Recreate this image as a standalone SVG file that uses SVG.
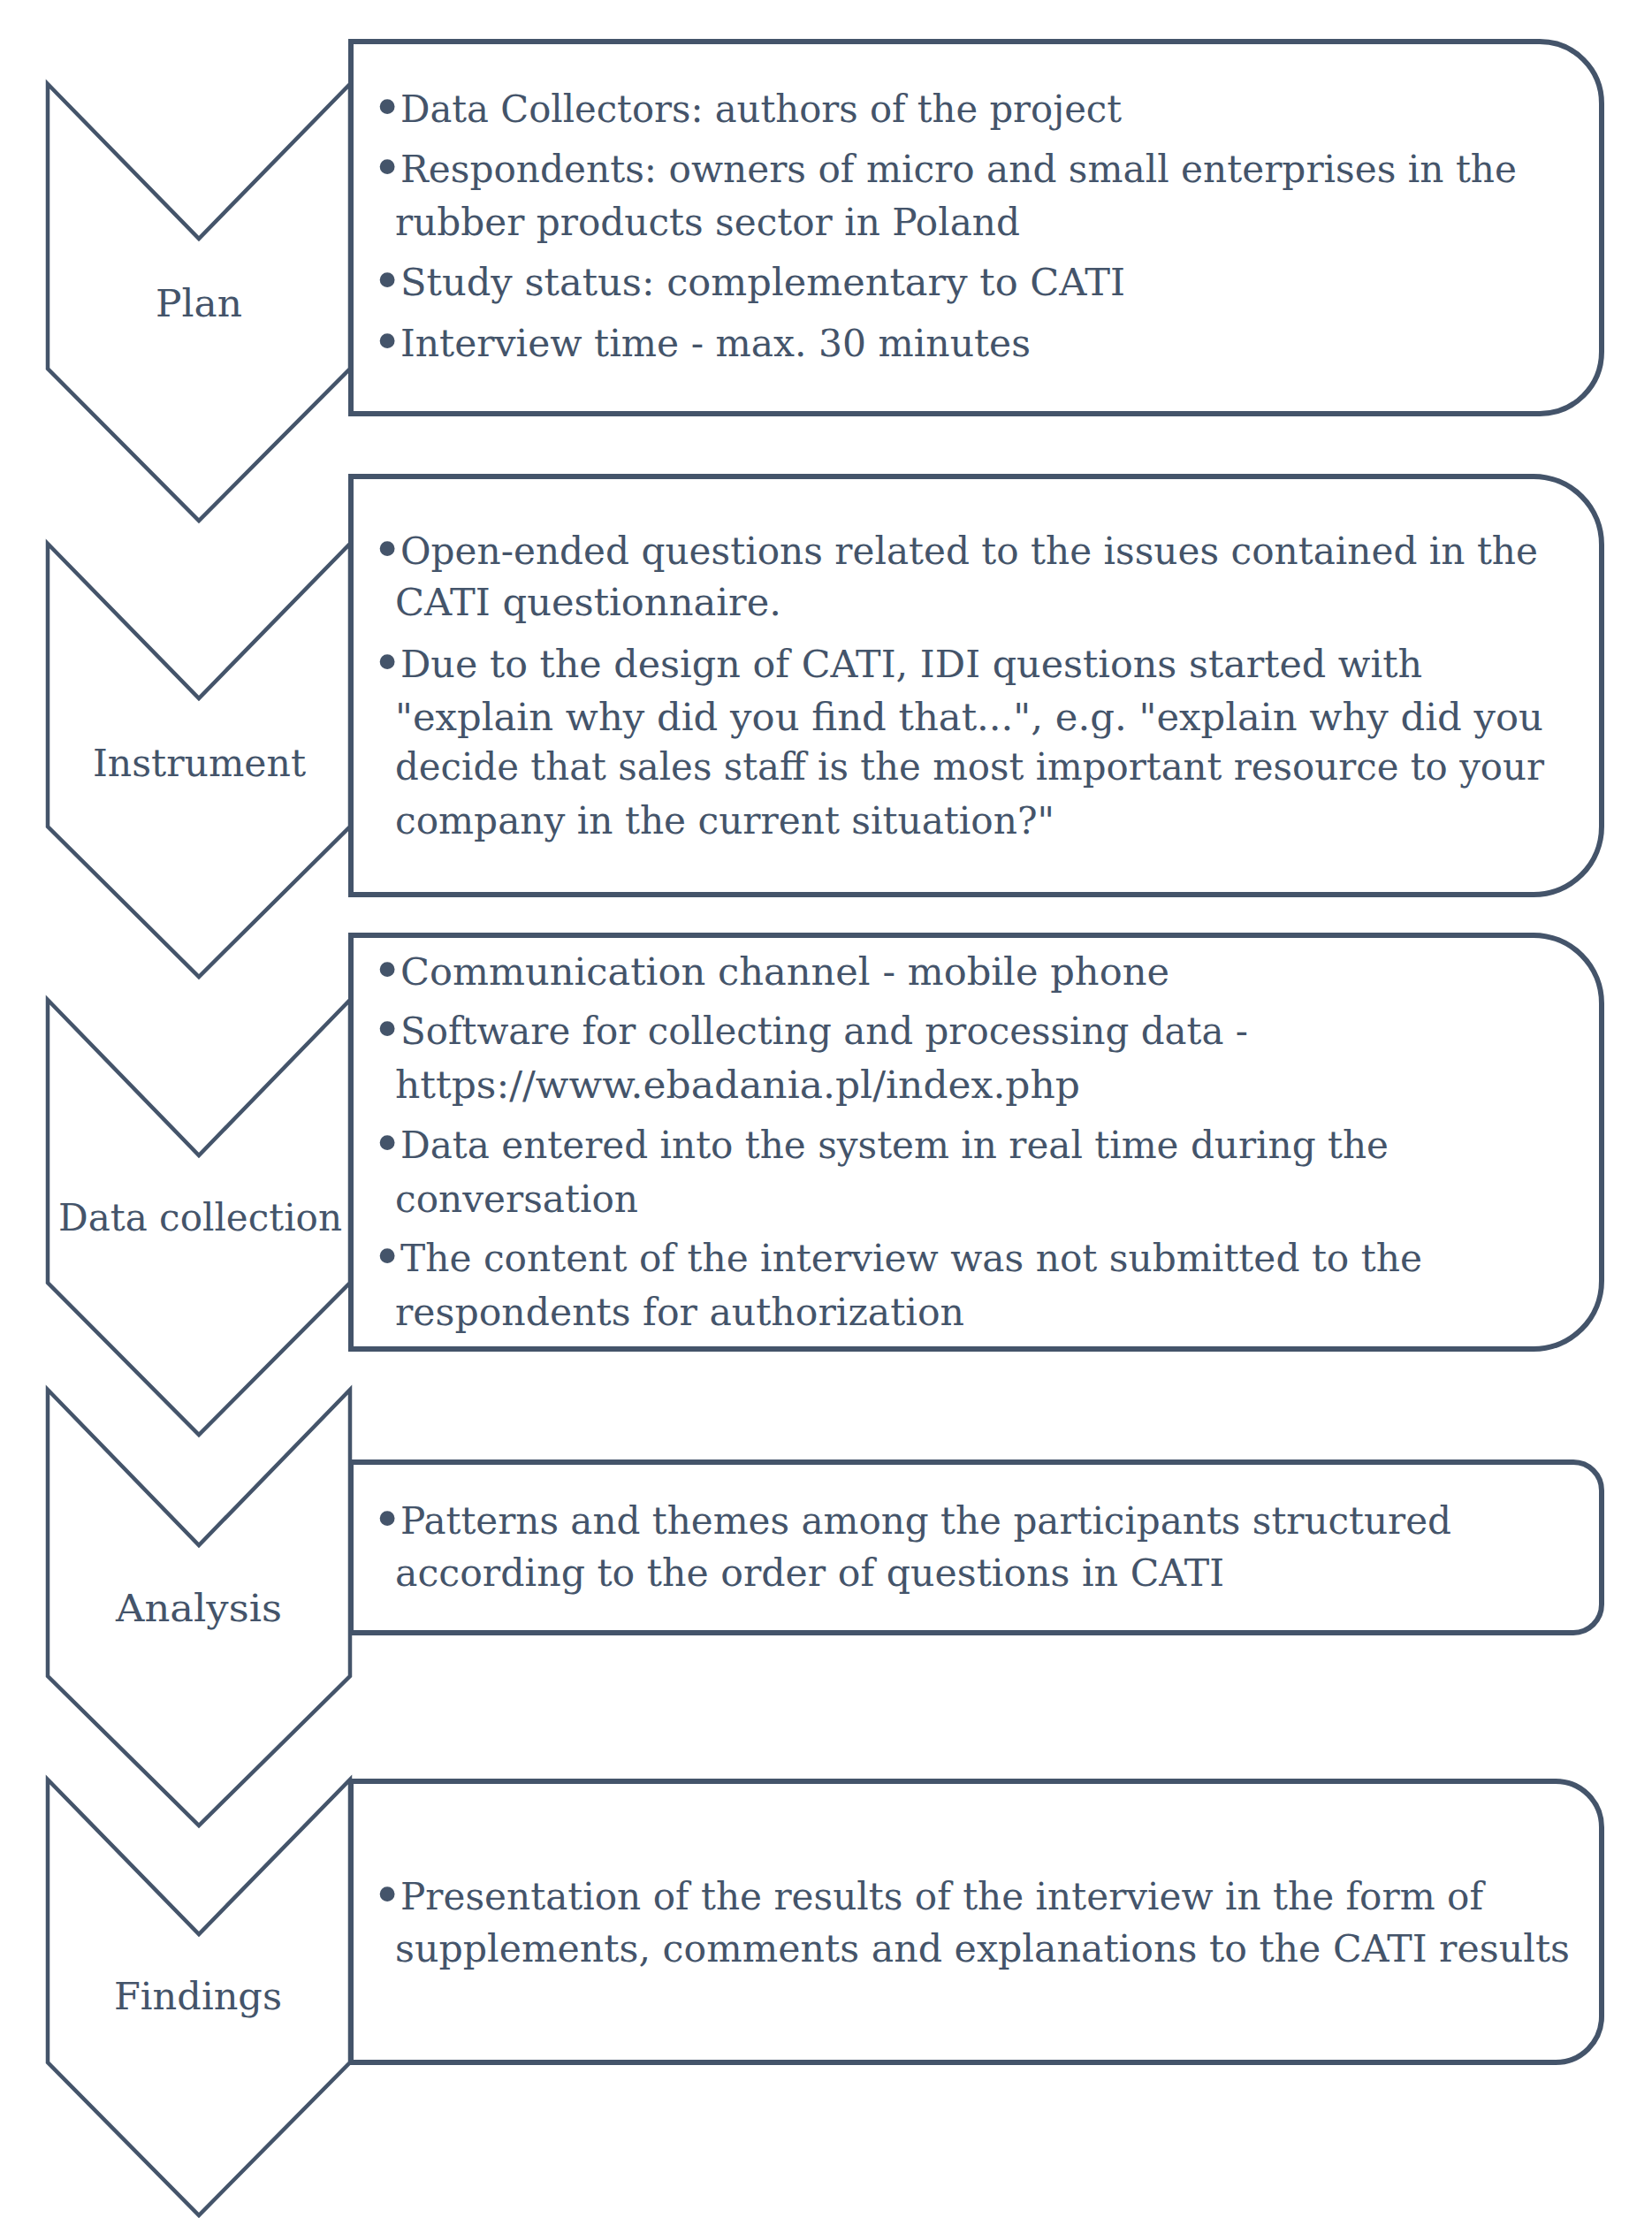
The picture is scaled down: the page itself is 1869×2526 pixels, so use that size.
<svg xmlns="http://www.w3.org/2000/svg" width="1869" height="2526" viewBox="0 0 1869 2526">
<style>
.chev{fill:#ffffff;stroke:#44546A;stroke-width:4.5;stroke-linejoin:miter}
.box{fill:#ffffff;stroke:#44546A;stroke-width:6;stroke-linejoin:miter}
text{font-family:"DejaVu Serif","Liberation Serif",serif;font-size:42px;fill:#44546A}
.b{font-size:58px;text-anchor:middle}
</style>
<rect x="0" y="0" width="1869" height="2526" fill="#ffffff"/>
<g id="connectors"></g>

<g id="step-plan">
<path class="chev" d="M54,95 L225,270 L396,95 L396,417 L225,589 L54,417 Z"/>
<path class="box" d="M397,47 H1742 A70,70 0 0 1 1812,117 V398 A70,70 0 0 1 1742,468 H397 Z"/>
<text x="176" y="358" textLength="98" lengthAdjust="spacingAndGlyphs">Plan</text>
<text class="b" x="438" y="142">•</text>
<text x="453" y="138" textLength="816" lengthAdjust="spacingAndGlyphs">Data Collectors: authors of the project</text>
<text class="b" x="438" y="210">•</text>
<text x="453" y="206" textLength="1263" lengthAdjust="spacingAndGlyphs">Respondents: owners of micro and small enterprises in the</text>
<text x="447" y="266" textLength="707" lengthAdjust="spacingAndGlyphs">rubber products sector in Poland</text>
<text class="b" x="438" y="338">•</text>
<text x="453" y="334" textLength="820" lengthAdjust="spacingAndGlyphs">Study status: complementary to CATI</text>
<text class="b" x="438" y="407">•</text>
<text x="453" y="403" textLength="713" lengthAdjust="spacingAndGlyphs">Interview time - max. 30 minutes</text>
</g>

<g id="step-instrument">
<path class="chev" d="M54,615 L225,790 L396,615 L396,935 L225,1105 L54,935 Z"/>
<path class="box" d="M397,539 H1735 A77,77 0 0 1 1812,616 V935 A77,77 0 0 1 1735,1012 H397 Z"/>
<text x="105" y="878" textLength="241" lengthAdjust="spacingAndGlyphs">Instrument</text>
<text class="b" x="438" y="642">•</text>
<text x="453" y="638" textLength="1287" lengthAdjust="spacingAndGlyphs">Open-ended questions related to the issues contained in the</text>
<text x="447" y="696" textLength="437" lengthAdjust="spacingAndGlyphs">CATI questionnaire.</text>
<text class="b" x="438" y="770">•</text>
<text x="453" y="766" textLength="1156" lengthAdjust="spacingAndGlyphs">Due to the design of CATI, IDI questions started with</text>
<text x="447" y="826" textLength="1299" lengthAdjust="spacingAndGlyphs">"explain why did you find that...", e.g. "explain why did you</text>
<text x="447" y="882" textLength="1300" lengthAdjust="spacingAndGlyphs">decide that sales staff is the most important resource to your</text>
<text x="447" y="943" textLength="746" lengthAdjust="spacingAndGlyphs">company in the current situation?"</text>
</g>

<g id="step-data-collection">
<path class="chev" d="M54,1131 L225,1307 L396,1131 L396,1451 L225,1623 L54,1451 Z"/>
<path class="box" d="M397,1058 H1735 A77,77 0 0 1 1812,1135 V1449 A77,77 0 0 1 1735,1526 H397 Z"/>
<text x="66" y="1392" textLength="321" lengthAdjust="spacingAndGlyphs">Data collection</text>
<text class="b" x="438" y="1118">•</text>
<text x="453" y="1114" textLength="870" lengthAdjust="spacingAndGlyphs">Communication channel - mobile phone</text>
<text class="b" x="438" y="1185">•</text>
<text x="453" y="1181" textLength="959" lengthAdjust="spacingAndGlyphs">Software for collecting and processing data -</text>
<text x="447" y="1242" textLength="775" lengthAdjust="spacingAndGlyphs">https://www.ebadania.pl/index.php</text>
<text class="b" x="438" y="1314">•</text>
<text x="453" y="1310" textLength="1118" lengthAdjust="spacingAndGlyphs">Data entered into the system in real time during the</text>
<text x="447" y="1371" textLength="275" lengthAdjust="spacingAndGlyphs">conversation</text>
<text class="b" x="438" y="1442">•</text>
<text x="453" y="1438" textLength="1156" lengthAdjust="spacingAndGlyphs">The content of the interview was not submitted to the</text>
<text x="447" y="1499" textLength="644" lengthAdjust="spacingAndGlyphs">respondents for authorization</text>
</g>

<g id="step-analysis">
<path class="chev" d="M54,1572 L225,1748 L396,1572 L396,1896 L225,2065 L54,1896 Z"/>
<path class="box" d="M397,1654 H1780 A32,32 0 0 1 1812,1686 V1815 A32,32 0 0 1 1780,1847 H397 Z"/>
<text x="131" y="1834" textLength="188" lengthAdjust="spacingAndGlyphs">Analysis</text>
<text class="b" x="438" y="1739">•</text>
<text x="453" y="1735" textLength="1189" lengthAdjust="spacingAndGlyphs">Patterns and themes among the participants structured</text>
<text x="447" y="1794" textLength="938" lengthAdjust="spacingAndGlyphs">according to the order of questions in CATI</text>
</g>

<g id="step-findings">
<path class="chev" d="M54,2013 L225,2188 L396,2013 L396,2333 L225,2506 L54,2333 Z"/>
<path class="box" d="M397,2015 H1760 A52,52 0 0 1 1812,2067 V2281 A52,52 0 0 1 1760,2333 H397 Z"/>
<text x="129" y="2273" textLength="190" lengthAdjust="spacingAndGlyphs">Findings</text>
<text class="b" x="438" y="2164">•</text>
<text x="453" y="2160" textLength="1225" lengthAdjust="spacingAndGlyphs">Presentation of the results of the interview in the form of</text>
<text x="447" y="2219" textLength="1329" lengthAdjust="spacingAndGlyphs">supplements, comments and explanations to the CATI results</text>
</g>
</svg>
